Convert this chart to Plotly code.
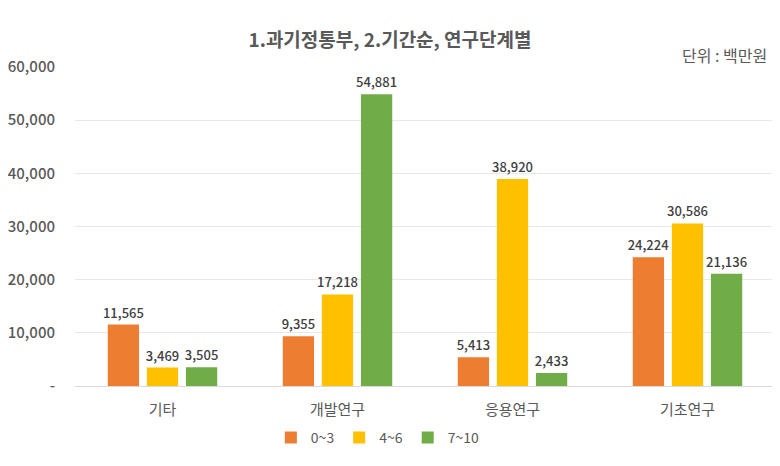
import plotly.graph_objects as go

categories = ["기타", "개발연구", "응용연구", "기초연구"]
series_names = ["0~3", "4~6", "7~10"]
v_0_3 = [11565, 9355, 5413, 24224]
v_4_6 = [3469, 17218, 38920, 30586]
v_7_10 = [3505, 54881, 2433, 21136]
colors = ["#ED7D31", "#FFC000", "#70AD47"]
tick_vals = [0, 10000, 20000, 30000, 40000, 50000, 60000]
tick_text = ["-", "10,000", "20,000", "30,000", "40,000", "50,000", "60,000"]

FONT = "Noto Sans CJK KR"
fig = go.Figure()
for name, vals, c in zip(series_names, [v_0_3, v_4_6, v_7_10], colors):
    fig.add_trace(go.Bar(
        x=categories, y=vals, name=name, marker=dict(color=c, line=dict(width=0)),
        text=[f"{v:,}" for v in vals], textposition="outside", constraintext="none",
        textfont=dict(size=13, color="#404040", family=FONT, weight=500),
        cliponaxis=False,
    ))

# page body has an 8px default margin; figure sized/offset to compensate
W, H = 772, 458
top, bottom = 67 - 8, 386 - 8
left, right = 75 - 8, 775 - 8
fig.update_layout(
    width=W, height=H,
    paper_bgcolor="white", plot_bgcolor="white",
    font=dict(family=FONT, color="#595959"),
    margin=dict(l=left, r=W - right, t=top, b=H - bottom, autoexpand=False),
    barmode="group", bargap=0.33, bargroupgap=0.2,
    title=dict(text="<b>1.과기정통부, 2.기간순, 연구단계별</b>", x=(390 - 8) / W, xanchor="center",
               y=1 - (40 - 8) / H, yanchor="middle", font=dict(size=19, color="#595959", family=FONT)),
    xaxis=dict(showline=True, linecolor="#D9D9D9", linewidth=1, ticks="", automargin=False,
               tickfont=dict(size=15, color="#595959"), showgrid=False, ticklabelstandoff=10),
    yaxis=dict(range=[0, 60000], tickvals=tick_vals, ticktext=tick_text, automargin=False,
               showgrid=True, gridcolor="#E8E8E8", zeroline=False,
               tickfont=dict(size=15, color="#595959", weight=500), ticklabelstandoff=19),
    legend=dict(orientation="h", x=(342 - 8) / W, xanchor="center", y=-(438 - 386) / (bottom - top),
                yanchor="middle",
                font=dict(size=14, color="#595959"), itemwidth=30, traceorder="normal"),
    annotations=[dict(text="단위 : 백만원", xref="paper", yref="paper", x=(769 - 8 - left) / (right - left),
                      y=(386 - 55) / (386 - 67), xanchor="right", yanchor="middle", showarrow=False,
                      font=dict(size=16, color="#595959"))],
)
fig.write_html("out.html")
